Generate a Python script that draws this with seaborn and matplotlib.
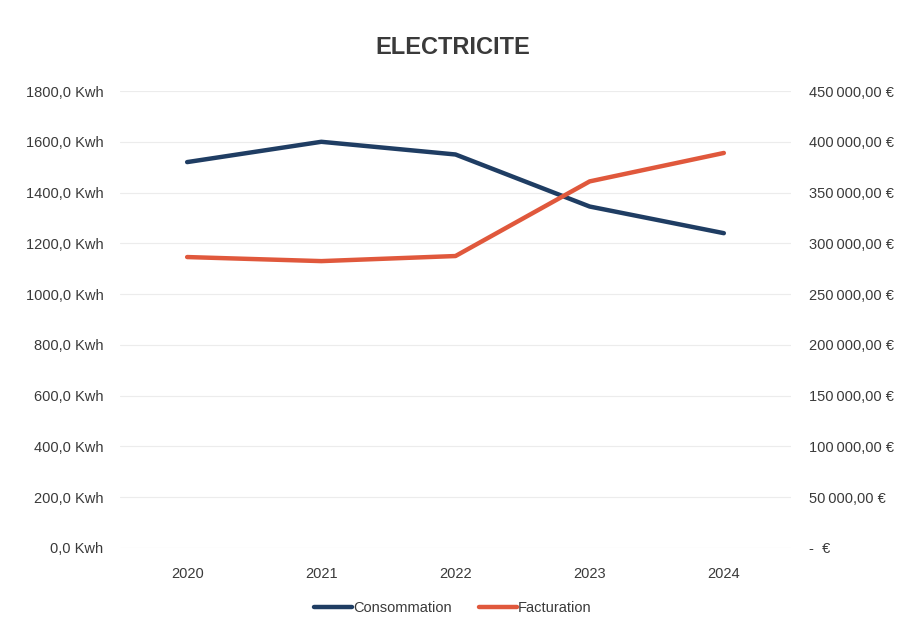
import matplotlib
matplotlib.use("Agg")
import matplotlib.pyplot as plt
import seaborn as sns
import pandas as pd
from matplotlib.ticker import FuncFormatter
from matplotlib.lines import Line2D

years = ["2020", "2021", "2022", "2023", "2024"]
consommation = [1520, 1600, 1550, 1345, 1240]
facturation = [286500, 282500, 287500, 361000, 389000]

sns.set_theme(style="white")
plt.rcParams['font.family'] = ['Liberation Sans', 'DejaVu Sans']

navy = "#1f3d63"
orange = "#e0583c"
txt = "#3a3a3a"

df = pd.DataFrame({"year": years, "cons": consommation, "fact": facturation})

fig = plt.figure(figsize=(9.06, 6.29), dpi=100)
ax = fig.add_axes([0.1325, 0.1288, 0.7405, 0.7265])
ax2 = ax.twinx()

sns.lineplot(data=df, x="year", y="cons", ax=ax, color=navy, linewidth=3.2, sort=False)
sns.lineplot(data=df, x="year", y="fact", ax=ax2, color=orange, linewidth=3.2, sort=False)

ax.set_ylim(0, 1800)
ax.set_yticks(range(0, 1801, 200))
ax2.set_ylim(0, 450000)
ax2.set_yticks(range(0, 450001, 50000))
ax.set_xlim(-0.5, 4.5)

ax.yaxis.set_major_formatter(FuncFormatter(lambda v, p: f"{v:.1f}".replace(".", ",") + " Kwh"))

def eur(v, p):
    if v == 0:
        return "-  €"
    s = f"{v:,.2f}".replace(",", "\u2009").replace(".", ",")
    return s + " €"
ax2.yaxis.set_major_formatter(FuncFormatter(eur))

ax.grid(axis="y", color="#ececec", linewidth=0.8)
ax.set_axisbelow(True)
for a in (ax, ax2):
    for s in a.spines.values():
        s.set_visible(False)
    a.set_xlabel("")
    a.set_ylabel("")
    a.tick_params(axis="both", length=0, colors=txt, labelsize=10.5)
ax.tick_params(axis="y", pad=12)
ax2.tick_params(axis="y", pad=13)
ax.tick_params(axis="x", pad=14)

fig.text(0.5, 0.925, "ELECTRICITE", ha="center", va="center", fontsize=17, fontweight="bold", color="#3a3a3a")

handles = [Line2D([0], [0], color=navy, lw=3.2), Line2D([0], [0], color=orange, lw=3.2)]
fig.legend(handles, ["Consommation", "Facturation"], loc="center", bbox_to_anchor=(0.5, 0.033),
           ncol=2, frameon=False, fontsize=10.5, handlelength=2.6, handletextpad=0.1,
           columnspacing=1.8, labelcolor=txt)

fig.savefig("out.png", dpi=100, facecolor="white")
